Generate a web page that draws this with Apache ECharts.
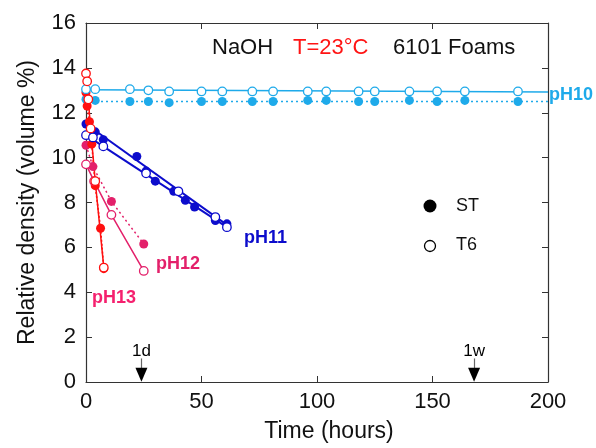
<!DOCTYPE html>
<html>
<head>
<meta charset="utf-8">
<script src="https://cdn.jsdelivr.net/npm/echarts@6/dist/echarts.min.js"></script>
<style>
html, body { margin: 0; padding: 0; background: #fff; }
#chart { width: 596px; height: 448px; }
</style>
</head>
<body>
<div id="chart"></div>
<script>
// time axis ticks
var xTicks = [0, 50, 100, 150, 200];
var yTicks = [0, 2, 4, 6, 8, 10, 12, 14, 16];

// pH10 (light blue)
var ph10St = [[0,12.6],[4,12.55],[19,12.5],[27,12.5],[36,12.45],[50,12.5],[59,12.5],[72,12.5],[81,12.5],[96,12.55],[104,12.55],[118,12.5],[125,12.5],[140,12.55],[152,12.5],[164,12.55],[187,12.5]];
var ph10T6 = [[0,13.05],[4,13.05],[19,13.05],[27,13.0],[36,12.95],[50,12.95],[59,12.95],[72,12.95],[81,12.95],[96,12.95],[104,12.95],[118,12.95],[125,12.95],[140,12.95],[152,12.95],[164,12.95],[187,12.95]];
var ph10StFit = [[0,12.5],[200,12.5]];
var ph10T6Fit = [[0,13.02],[200,12.93]];

// pH11 (blue)
var ph11St = [[0,11.5],[4,11.15],[7.5,10.8],[22,10.05],[26,9.4],[30,8.95],[38,8.5],[43,8.1],[47,7.8],[56,7.2],[61,7.05]];
var ph11T6 = [[0,11.0],[3,10.9],[7.5,10.5],[26,9.3],[40,8.5],[56,7.35],[61,6.9]];
var ph11StFit = [[0,11.5],[61,7.0]];
var ph11T6Fit = [[0,11.0],[61,6.9]];

// pH12 (crimson)
var ph12St = [[0,10.55],[3,9.6],[11,8.05],[25,6.15]];
var ph12T6 = [[0,9.7],[3.5,8.95],[11,7.45],[25,4.95]];

// pH13 (red)
var ph13St = [[0,12.9],[0.5,12.3],[1.5,11.6],[2.5,10.6],[4,8.75],[6.3,6.85],[7.7,5.05]];
var ph13T6 = [[0,13.75],[0.5,13.4],[1,12.6],[2,11.3],[4,8.95],[7.7,5.1]];

// time markers
var markerX = [24, 168];
var markerText = ['1d', '1w'];

var cLight = '#1eaaea', cBlue = '#0c0ccc', cPink = '#e3206a', cRed = '#ff1010';
var font = 'Liberation Sans, Arial, sans-serif';
var axisColor = '#333';

function filled(name, data, color) {
	return { name: name, type: 'scatter', data: data, symbol: 'circle', symbolSize: 9,
		itemStyle: { color: color, opacity: 1 }, z: 4 };
}
function open(name, data, color) {
	return { name: name, type: 'scatter', data: data, symbol: 'circle', symbolSize: 8.5,
		itemStyle: { color: '#fff', borderColor: color, borderWidth: 1.3, opacity: 1 }, z: 5 };
}
function line(name, data, color, type, w) {
	return { name: name, type: 'line', data: data, showSymbol: false, symbol: 'none',
		lineStyle: { color: color, width: w || 1.5, type: type }, z: 3, silent: true };
}
function frameAxis(pos, min, max, step) {
	return {
		type: 'value', position: pos, min: min, max: max, interval: step,
		axisLine: { show: true, onZero: false, lineStyle: { color: axisColor, width: 1.2 } },
		axisTick: { show: true, inside: true, length: 6, lineStyle: { color: axisColor } },
		axisLabel: { show: false }, splitLine: { show: false }
	};
}

var chart = echarts.init(document.getElementById('chart'));
chart.setOption({
	animation: false,
	backgroundColor: '#fff',
	grid: { left: 86, right: 48, top: 23, bottom: 61 },
	xAxis: [
		{
			type: 'value', min: 0, max: 200, interval: 50,
			name: 'Time (hours)', nameLocation: 'middle', nameGap: 38,
			nameTextStyle: { fontFamily: font, fontSize: 23, color: '#111', padding: [0, 0, 0, 24] },
			axisLine: { onZero: false, lineStyle: { color: axisColor, width: 1.2 } },
			axisTick: { inside: true, length: 6, lineStyle: { color: axisColor } },
			axisLabel: { fontFamily: font, fontSize: 22, color: '#111', margin: 9 },
			splitLine: { show: false }
		},
		frameAxis('top', 0, 200, 50)
	],
	yAxis: [
		{
			type: 'value', min: 0, max: 16, interval: 2,
			name: 'Relative density (volume %)', nameLocation: 'middle', nameGap: 47,
			nameTextStyle: { fontFamily: font, fontSize: 23, color: '#111' },
			axisLine: { show: true, onZero: false, lineStyle: { color: axisColor, width: 1.2 } },
			axisTick: { show: true, inside: true, length: 6, lineStyle: { color: axisColor } },
			axisLabel: { fontFamily: font, fontSize: 22, color: '#111', margin: 10 },
			splitLine: { show: false }
		},
		frameAxis('right', 0, 16, 2)
	],
	series: [
		line('pH10 ST fit', ph10StFit, cLight, [2, 3]),
		line('pH10 T6 fit', ph10T6Fit, cLight, 'solid'),
		line('pH11 ST fit', ph11StFit, cBlue, 'solid', 2),
		line('pH11 T6 fit', ph11T6Fit, cBlue, 'solid', 2),
		line('pH12 ST line', ph12St, cPink, [2, 3]),
		line('pH12 T6 line', ph12T6, cPink, 'solid'),
		line('pH13 ST line', ph13St, cRed, [2, 2]),
		line('pH13 T6 line', ph13T6, cRed, 'solid'),
		filled('pH10 ST', ph10St, cLight),
		open('pH10 T6', ph10T6, cLight),
		filled('pH11 ST', ph11St, cBlue),
		open('pH11 T6', ph11T6, cBlue),
		filled('pH12 ST', ph12St, cPink),
		open('pH12 T6', ph12T6, cPink),
		filled('pH13 ST', ph13St, cRed),
		open('pH13 T6', ph13T6, cRed),
		{
			name: 'markers', type: 'scatter', silent: true, z: 6,
			data: markerX.map(function (x, i) { return { value: [x, 0.32], label: { formatter: markerText[i] } }; }),
			symbol: 'triangle', symbolRotate: 180, symbolSize: [12, 14],
			itemStyle: { color: '#000', opacity: 1 },
			label: { show: true, position: 'top', distance: 8, fontFamily: font, fontSize: 17, color: '#000' },
			markLine: {
				silent: true, symbol: 'none', label: { show: false },
				lineStyle: { color: '#666', width: 1.2, type: 'solid' },
				data: markerX.map(function (x) { return [{ coord: [x, 0.6] }, { coord: [x, 1.05] }]; })
			}
		}
	],
	graphic: [
		{ type: 'text', left: 212, top: 37, style: { text: 'NaOH', font: '22px ' + font, fill: '#111' } },
		{ type: 'text', left: 293, top: 37, style: { text: 'T=23°C', font: '22px ' + font, fill: '#ff1414' } },
		{ type: 'text', left: 393, top: 37, style: { text: '6101 Foams', font: '22px ' + font, fill: '#111' } },
		{ type: 'text', left: 549, top: 86, style: { text: 'pH10', font: 'bold 18px ' + font, fill: cLight } },
		{ type: 'text', left: 244, top: 229, style: { text: 'pH11', font: 'bold 18px ' + font, fill: cBlue } },
		{ type: 'text', left: 156, top: 255, style: { text: 'pH12', font: 'bold 18px ' + font, fill: cPink } },
		{ type: 'text', left: 92, top: 289, style: { text: 'pH13', font: 'bold 18px ' + font, fill: '#f5206e' } },
		{ type: 'circle', shape: { cx: 430, cy: 206, r: 6.5 }, style: { fill: '#000' } },
		{ type: 'text', left: 456, top: 197, style: { text: 'ST', font: '18px ' + font, fill: '#111' } },
		{ type: 'circle', shape: { cx: 430, cy: 246, r: 5.5 }, style: { fill: '#fff', stroke: '#000', lineWidth: 1.3 } },
		{ type: 'text', left: 456, top: 236, style: { text: 'T6', font: '18px ' + font, fill: '#111' } }
	]
});
</script>
</body>
</html>
